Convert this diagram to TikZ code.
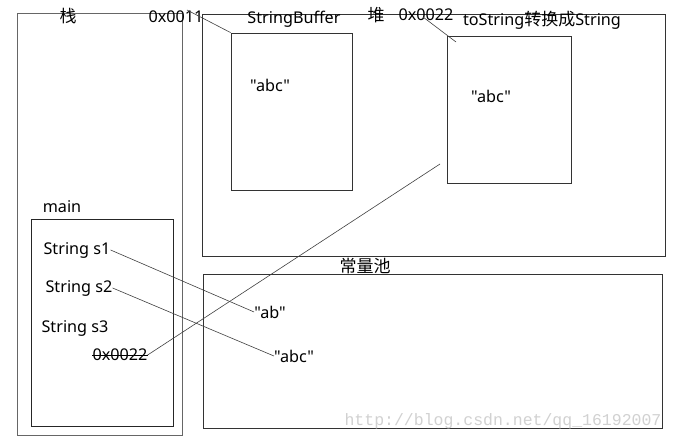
\documentclass[tikz,border=0pt]{standalone}
\usepackage{fontspec}
\setmainfont{Noto Sans}[Ligatures=TeXOff]
\newfontfamily\cjk{Noto Sans CJK SC}[Ligatures=TeXOff]
\newfontfamily\wmfont{Liberation Mono}
\usetikzlibrary{calc}
\begin{document}
\begin{tikzpicture}[x=1pt,y=-1pt,
  box/.style={draw=black!80,line width=0.8pt,inner sep=0pt,minimum width=#1},
  gbox/.style={draw=black!60,line width=0.9pt,inner sep=0pt},
  lbl/.style={font=\fontsize{16.2}{18}\selectfont,inner sep=0pt,anchor=center},
  zh/.style={font=\cjk\fontsize{17}{19}\selectfont,inner sep=0pt,anchor=center},
  link/.style={draw=black!75,line width=0.6pt}]
\useasboundingbox[fill=white] (0,0) rectangle (675,443);
% boxes
\node[gbox,minimum width=165pt,minimum height=422pt] (stack) at (99.5,224) {};
\node[box=463pt,minimum height=242pt] (heap) at (433.5,135) {};
\node[box=121pt,minimum height=157pt] (sb) at (291.5,111.5) {};
\node[box=124pt,minimum height=147pt] (ts) at (509,109.5) {};
\node[gbox,draw=black!85,minimum width=142pt,minimum height=207pt] (mainbox) at (102,322.5) {};
\node[box=459pt,minimum height=154pt] (pool) at (432.5,351) {};
% labels
\node[zh] (zhan) at (68,16) {栈};
\node[lbl] (a11) at (176,17) {0x0011};
\node[lbl] (sbl) at (294,19) {StringBuffer};
\node[lbl] (sbabc) at (270,85) {"abc"};
\node[zh] (dui) at (376,15) {堆};
\node[lbl] (a22) at (426,15) {0x0022};
\node[lbl,font=\fontsize{16.2}{18}\selectfont] (tsl) at (542,20) {toString{\cjk\fontsize{17}{19}\selectfont 转换成}String};
\node[lbl] (tsabc) at (491,96) {"abc"};
\node[lbl] (mainl) at (62,207) {main};
\node[lbl] (s1) at (77,250) {String s1};
\node[lbl] (s2) at (79,288) {String s2};
\node[lbl] (s3) at (75,328) {String s3};
\node[lbl] (m22) at (120,355) {0x0022};
\node[zh] (cl) at (365,266) {常量池};
\node[lbl] (ab) at (270,312) {"ab"};
\node[lbl] (pabc) at (294,356) {"abc"};
\node[font=\wmfont\fontsize{16.5}{18}\selectfont,text=black!18,inner sep=0pt] (wm) at (503,421) {http://blog.csdn.net/qq\_16192007};
% strike-through
\draw[line width=0.6pt] (m22.west) -- (m22.east);
% connectors
\coordinate (c11) at (187,10);
\coordinate (c22) at (423,17);
\coordinate (t22) at (456,42);
\coordinate (tsEnd) at (440,164);
\draw[link] (c11) -- (sb.north west);
\draw[link] (c22) -- (t22);
\draw[link] (s1.east) -- (ab.west);
\draw[link] (s2.east) -- (pabc.west);
\draw[link] (m22.east) -- (tsEnd);
\end{tikzpicture}
\end{document}
